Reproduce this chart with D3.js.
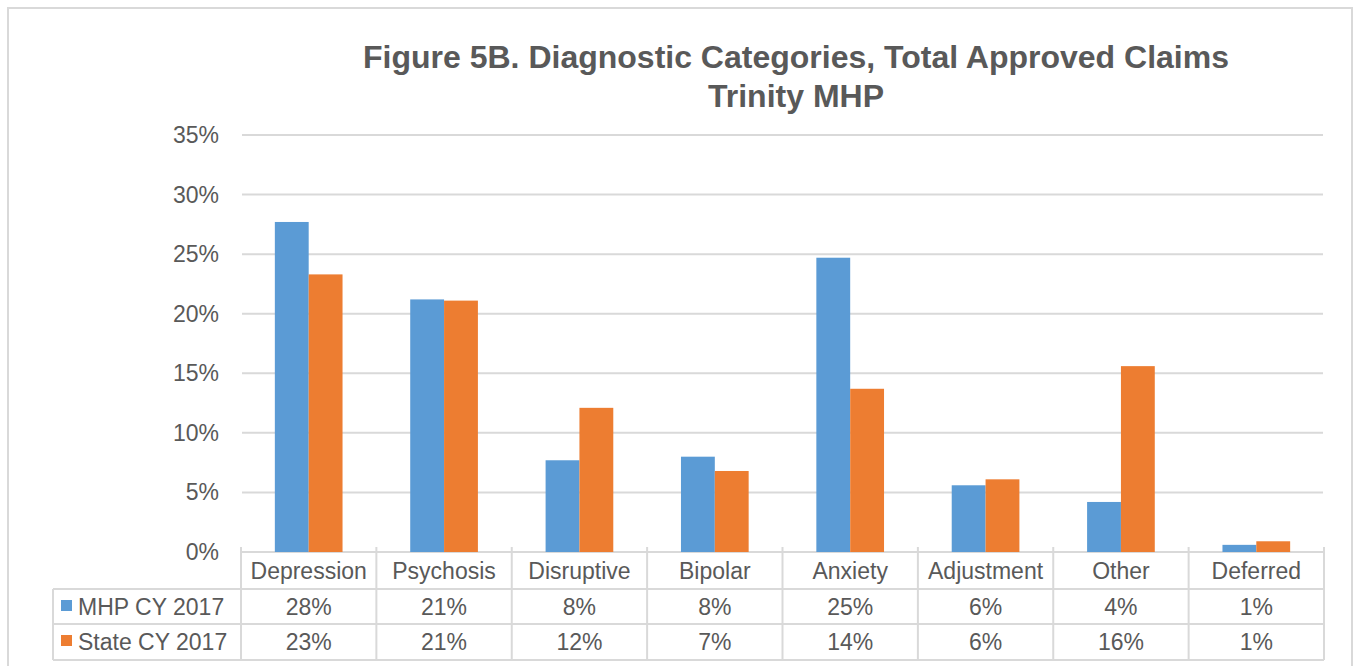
<!DOCTYPE html>
<html>
<head>
<meta charset="utf-8">
<script src="https://cdn.jsdelivr.net/npm/d3@7"></script>
<style>
  body { margin: 0; background: #fff; }
  svg text { font-family: "Liberation Sans", Arial, sans-serif; fill: #595959; }
</style>
</head>
<body>
<svg id="chart" width="1357" height="666"></svg>
<script>
var categories = ['Depression', 'Psychosis', 'Disruptive', 'Bipolar', 'Anxiety', 'Adjustment', 'Other', 'Deferred'];
var seriesNames = ['MHP CY 2017', 'State CY 2017'];
var mhpValues = [27.7, 21.2, 7.7, 8.0, 24.7, 5.6, 4.2, 0.6];
var stateValues = [23.3, 21.1, 12.1, 6.8, 13.7, 6.1, 15.6, 0.9];
var mhpLabels = ['28%', '21%', '8%', '8%', '25%', '6%', '4%', '1%'];
var stateLabels = ['23%', '21%', '12%', '7%', '14%', '6%', '16%', '1%'];
var yTicks = [0, 5, 10, 15, 20, 25, 30, 35];
var colors = ['#5b9bd5', '#ed7d31'];

var svg = d3.select('#chart');
var grid = '#d9d9d9';

// outer chart border
svg.append('rect')
  .attr('x', 8).attr('y', 8)
  .attr('width', 1344).attr('height', 670)
  .attr('fill', 'none').attr('stroke', grid).attr('stroke-width', 2);

// title
svg.append('text')
  .attr('x', 796).attr('y', 68)
  .attr('text-anchor', 'middle')
  .style('font-size', '32px').style('font-weight', 'bold')
  .text('Figure 5B. Diagnostic Categories, Total Approved Claims');
svg.append('text')
  .attr('x', 796).attr('y', 107)
  .attr('text-anchor', 'middle')
  .style('font-size', '32px').style('font-weight', 'bold')
  .text('Trinity MHP');

var plotLeft = 241, plotRight = 1324, plotTop = 135, plotBottom = 552;

var cell = d3.scaleBand().domain(categories).range([plotLeft, plotRight]).padding(0);
var x = d3.scaleBand().domain(categories).range([plotLeft, plotRight])
  .paddingInner(0.5).paddingOuter(0.25);
var x1 = d3.scaleBand().domain(seriesNames).range([0, x.bandwidth()]);
var y = d3.scaleLinear().domain([0, 35]).range([plotBottom, plotTop]);

// gridlines
svg.append('g').selectAll('line')
  .data(yTicks)
  .enter().append('line')
  .attr('x1', plotLeft + 1).attr('x2', plotRight - 1)
  .attr('y1', d => y(d)).attr('y2', d => y(d))
  .attr('stroke', grid).attr('stroke-width', 2);

// y labels
svg.append('g').selectAll('text')
  .data(yTicks)
  .enter().append('text')
  .attr('x', 219).attr('y', d => y(d) + 8)
  .attr('text-anchor', 'end')
  .style('font-size', '23px')
  .text(d => d + '%');

// bars
var series = [mhpValues, stateValues];
series.forEach(function(vals, si) {
  svg.append('g').selectAll('rect')
    .data(vals)
    .enter().append('rect')
    .attr('x', (d, i) => x(categories[i]) + x1(seriesNames[si]))
    .attr('y', d => y(d))
    .attr('width', x1.bandwidth())
    .attr('height', d => plotBottom - y(d))
    .attr('fill', colors[si]);
});

// data table
var rowBot = 660;
var tbl = svg.append('g');

// horizontal lines
[589, 624, 660].forEach(function(yy) {
  tbl.append('line')
    .attr('x1', 53).attr('x2', plotRight)
    .attr('y1', yy).attr('y2', yy)
    .attr('stroke', grid).attr('stroke-width', 2);
});
// vertical lines
var vx = categories.map(c => cell(c)).concat([plotRight]);
tbl.selectAll('line.v')
  .data(vx)
  .enter().append('line')
  .attr('class', 'v')
  .attr('x1', d => d).attr('x2', d => d)
  .attr('y1', plotBottom - 5).attr('y2', rowBot)
  .attr('stroke', grid).attr('stroke-width', 2);
tbl.append('line')
  .attr('x1', 53).attr('x2', 53)
  .attr('y1', 589).attr('y2', rowBot)
  .attr('stroke', grid).attr('stroke-width', 2);

// category labels
tbl.selectAll('text.cat')
  .data(categories)
  .enter().append('text')
  .attr('class', 'cat')
  .attr('x', d => cell(d) + cell.bandwidth() / 2)
  .attr('y', 579)
  .attr('text-anchor', 'middle')
  .style('font-size', '23px')
  .text(d => d);

// value rows
[mhpLabels, stateLabels].forEach(function(labels, si) {
  var cy = si === 0 ? 615 : 650;
  tbl.append('g').selectAll('text')
    .data(labels)
    .enter().append('text')
    .attr('x', (d, i) => cell(categories[i]) + cell.bandwidth() / 2)
    .attr('y', cy)
    .attr('text-anchor', 'middle')
    .style('font-size', '23px')
    .text(d => d);
  tbl.append('rect')
    .attr('x', 61).attr('y', cy - 15)
    .attr('width', 11).attr('height', 11)
    .attr('fill', colors[si]);
  tbl.append('text')
    .attr('x', 78).attr('y', cy)
    .style('font-size', '23px')
    .text(seriesNames[si]);
});
</script>
</body>
</html>
